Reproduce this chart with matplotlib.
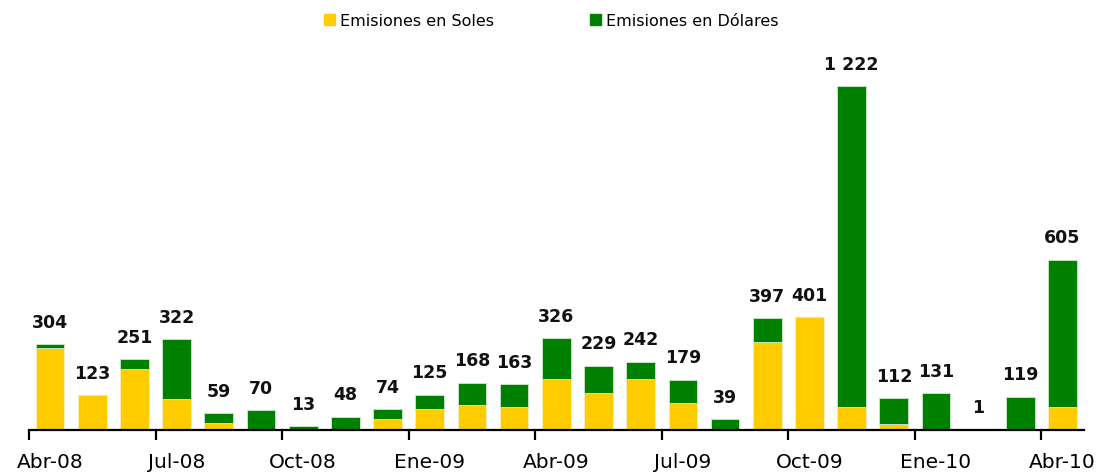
import matplotlib.pyplot as plt
import numpy as np
from matplotlib.patches import Patch

# meses Abr-08 .. Abr-10
meses = ['Abr-08', 'May-08', 'Jun-08', 'Jul-08', 'Ago-08', 'Set-08', 'Oct-08',
         'Nov-08', 'Dic-08', 'Ene-09', 'Feb-09', 'Mar-09', 'Abr-09', 'May-09',
         'Jun-09', 'Jul-09', 'Ago-09', 'Set-09', 'Oct-09', 'Nov-09', 'Dic-09',
         'Ene-10', 'Feb-10', 'Mar-10', 'Abr-10']
soles = [291, 123, 218, 110, 25, 0, 0, 0, 39, 75, 88, 83, 182, 133,
         182, 96, 0, 314, 401, 83, 20, 0, 0, 0, 83]
totales = [304, 123, 251, 322, 59, 70, 13, 48, 74, 125, 168, 163, 326, 229,
           242, 179, 39, 397, 401, 1222, 112, 131, 1, 119, 605]
dolares = [t - s for t, s in zip(totales, soles)]

amarillo = '#FFCC00'
verde = '#008000'

fig = plt.figure(figsize=(11.02, 4.77), dpi=100)
ax = fig.add_axes([0.0263, 0.0964, 0.957, 0.826])

x = np.arange(len(meses))
ax.bar(x, soles, width=0.68, color=amarillo, edgecolor='#f3f0c8', linewidth=0.6)
ax.bar(x, dolares, width=0.68, bottom=soles, color=verde, edgecolor='#cfe8cf', linewidth=0.6)

for xi, t in zip(x, totales):
    etiqueta = '{:,}'.format(t).replace(',', ' ')
    ax.text(xi, t + 48, etiqueta, ha='center', va='bottom', fontsize=12.5,
            fontweight='bold', color='#111111')

ax.set_xlim(-0.5, len(meses) - 0.5)
ax.set_ylim(0, 1400)
ax.set_yticks([])
for s in ['top', 'right', 'left']:
    ax.spines[s].set_visible(False)
ax.spines['bottom'].set_linewidth(1.6)

# etiquetas centradas en la barra, marcas en los bordes
ax.set_xticks(np.arange(0, len(meses), 3))
ax.set_xticklabels([meses[i] for i in range(0, len(meses), 3)], fontsize=14.5)
ax.set_xticks(np.arange(0, len(meses), 3) - 0.5, minor=True)
ax.tick_params(axis='x', which='major', length=0, pad=16)
ax.tick_params(axis='x', which='minor', length=7, width=1.6)

handles = [Patch(color=amarillo, label='Emisiones en Soles'),
           Patch(color=verde, label='Emisiones en Dólares')]
fig.legend(handles=handles, loc='upper center', bbox_to_anchor=(0.5, 1.0), ncol=2,
           frameon=False, fontsize=11.5, handlelength=0.7, handleheight=0.7,
           handletextpad=0.3, columnspacing=6)

fig.savefig('out.png', dpi=100)
